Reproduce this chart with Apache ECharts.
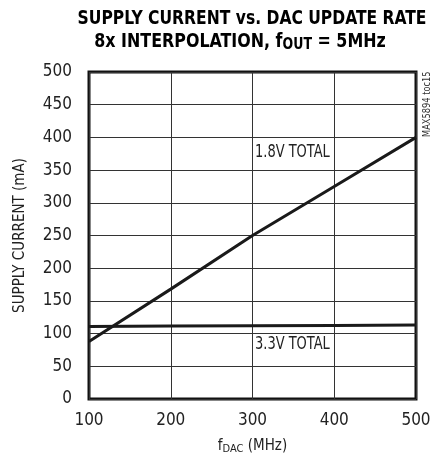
<!DOCTYPE html>
<html><head><meta charset="utf-8">
<script src="https://cdn.jsdelivr.net/npm/echarts@6/dist/echarts.min.js"></script>
<style>html,body{margin:0;padding:0;background:#fff}#c{width:442px;height:462px}</style>
</head><body><div id="c"></div>
<script>
var FONT = "'Liberation Sans Narrow','DejaVu Sans Condensed','Roboto Condensed',sans-serif";
var xTicks = [100, 200, 300, 400, 500];
var yTicks = [0, 50, 100, 150, 200, 250, 300, 350, 400, 450, 500];
var fDac = [100, 200, 300, 400, 500];
var total18V = [88, 168, 250, 325, 400];
var total33V = [111, 111.5, 112, 112.5, 113];
var seriesNames = ['1.8V TOTAL', '3.3V TOTAL'];
var titleLines = ['SUPPLY CURRENT vs. DAC UPDATE RATE', '8x INTERPOLATION, f{s|OUT} = 5MHz'];

var chart = echarts.init(document.getElementById('c'), null, {renderer: 'canvas'});
var lineColor = '#1a1a1a';
chart.setOption({
  animation: false,
  textStyle: {fontFamily: FONT},
  grid: {left: 89, top: 72, right: 26, bottom: 63, show: true, borderColor: '#111', borderWidth: 3},
  xAxis: {
    type: 'value', min: 100, max: 500, interval: 100,
    name: 'f{s|DAC} (MHz)', nameLocation: 'middle', nameGap: 38,
    nameTextStyle: {fontFamily: FONT, fontSize: 15, color: '#222',
      rich: {s: {fontFamily: FONT, fontSize: 11, color: '#222', padding: [7, 0, 0, 0]}}},
    axisLine: {show: false}, axisTick: {show: false},
    axisLabel: {fontFamily: FONT, fontSize: 17, color: '#222', margin: 13},
    splitLine: {show: true, lineStyle: {color: '#333', width: 1}}
  },
  yAxis: {
    type: 'value', min: 0, max: 500, interval: 50,
    name: 'SUPPLY CURRENT (mA)', nameLocation: 'middle', nameGap: 61,
    nameTextStyle: {fontFamily: FONT, fontSize: 15, color: '#222'},
    axisLine: {show: false}, axisTick: {show: false},
    axisLabel: {fontFamily: FONT, fontSize: 17, color: '#222', margin: 17},
    splitLine: {show: true, lineStyle: {color: '#333', width: 1}}
  },
  series: [
    {name: seriesNames[0], type: 'line', showSymbol: false, symbol: 'none',
     data: fDac.map(function (x, i) { return [x, total18V[i]]; }),
     lineStyle: {color: lineColor, width: 3}},
    {name: seriesNames[1], type: 'line', showSymbol: false, symbol: 'none',
     data: fDac.map(function (x, i) { return [x, total33V[i]]; }),
     lineStyle: {color: lineColor, width: 3}}
  ],
  graphic: [
    {type: 'text', x: 252, y: 10, scaleX: 0.91, style: {text: titleLines[0], font: 'bold 19px ' + FONT, fill: '#000', align: 'center'}},
    {type: 'text', x: 240, y: 31, scaleX: 0.93, style: {text: titleLines[1], font: 'bold 19px ' + FONT, fill: '#000', align: 'center',
       rich: {s: {font: 'bold 15px ' + FONT, fill: '#000', padding: [7, 0, 0, 0]}}}},
    {type: 'text', x: 255, y: 144, scaleX: 0.85, style: {text: seriesNames[0], font: '17px ' + FONT, fill: '#222'}},
    {type: 'text', x: 255, y: 336, scaleX: 0.85, style: {text: seriesNames[1], font: '17px ' + FONT, fill: '#222'}},
    {type: 'text', x: 422, y: 137, rotation: Math.PI / 2, scaleX: 0.92, style: {text: 'MAX5894 toc15', font: '10px ' + FONT, fill: '#333'}}
  ]
});
</script></body></html>
